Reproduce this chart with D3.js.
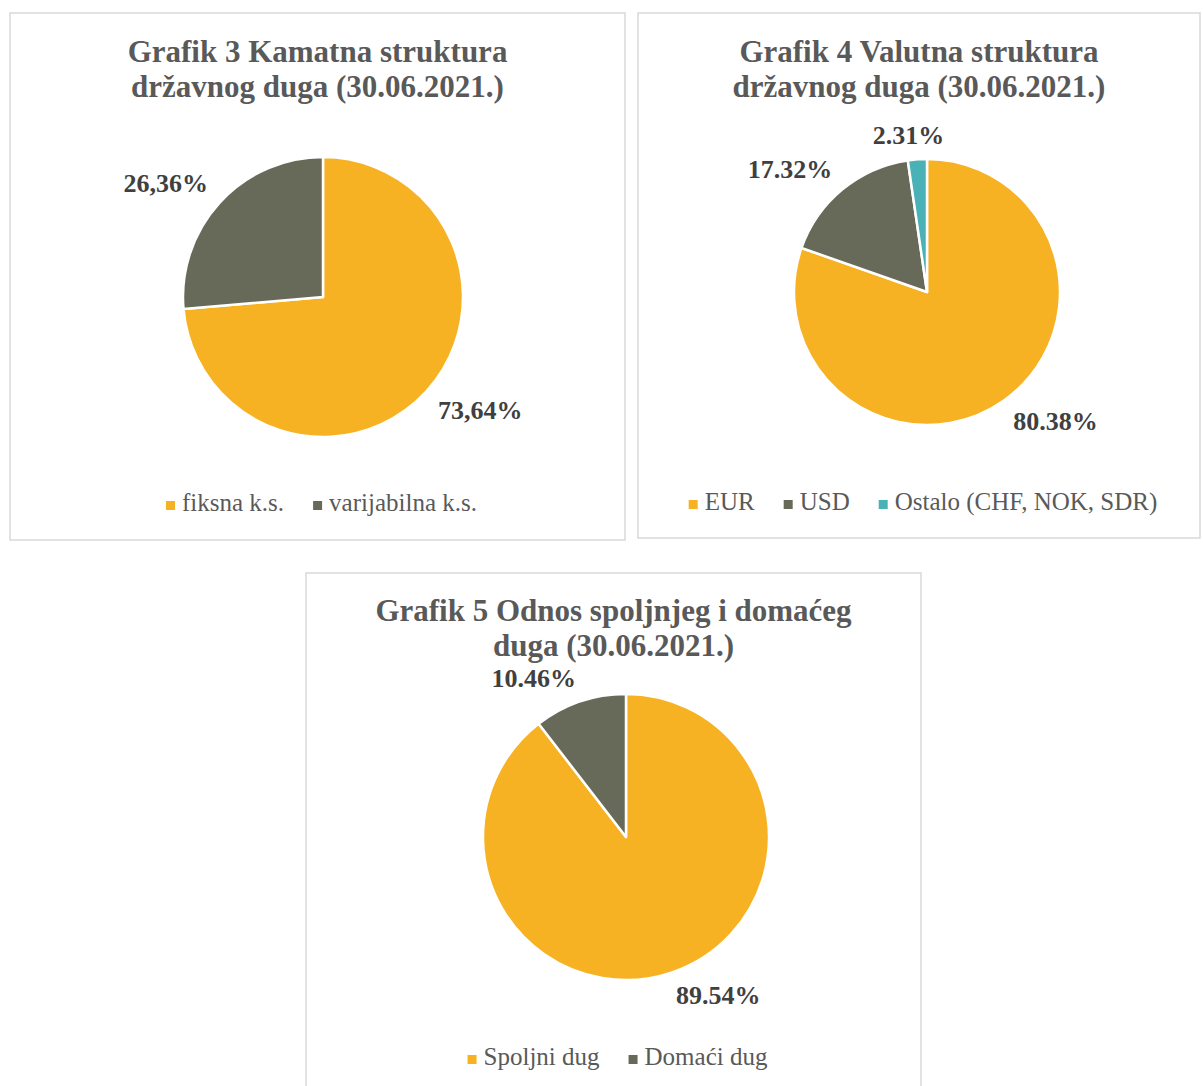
<!DOCTYPE html>
<html><head><meta charset="utf-8">
<script src="https://cdn.jsdelivr.net/npm/d3@7"></script>
<style>body{margin:0;background:#fff}svg{display:block}</style>
</head><body>
<svg id="c" width="1203" height="1086"></svg>
<script>
// ---- data ----
const titles1 = ["Grafik 3 Kamatna struktura", "državnog duga (30.06.2021.)"];
const cats1 = ["fiksna k.s.", "varijabilna k.s."];
const vals1 = [73.64, 26.36];
const labels1 = ["73,64%", "26,36%"];

const titles2 = ["Grafik 4 Valutna struktura", "državnog duga (30.06.2021.)"];
const cats2 = ["EUR", "USD", "Ostalo (CHF, NOK, SDR)"];
const vals2 = [80.38, 17.32, 2.31];
const labels2 = ["80.38%", "17.32%", "2.31%"];

const titles3 = ["Grafik 5 Odnos spoljnjeg i domaćeg", "duga (30.06.2021.)"];
const cats3 = ["Spoljni dug", "Domaći dug"];
const vals3 = [89.54, 10.46];
const labels3 = ["89.54%", "10.46%"];

const colors = ["#F6B223", "#686A59", "#4AB1B6"];

// ---- layout ----
const panels = [
  {x:10, y:13, w:615, h:527, cx:323, cy:297, r:140, titleY:62, legendY:503, titles:titles1, cats:cats1, vals:vals1, labels:labels1},
  {x:638, y:13, w:562, h:525, cx:927, cy:292, r:133, titleY:62, legendY:502, titles:titles2, cats:cats2, vals:vals2, labels:labels2},
  {x:306, y:573, w:615, h:530, cx:626, cy:837, r:143, titleY:621, legendY:1057, titles:titles3, cats:cats3, vals:vals3, labels:labels3}
];

const svg = d3.select("#c");
const font = "'Liberation Serif', 'DejaVu Serif', serif";

panels.forEach(p => {
  const g = svg.append("g");
  g.append("rect").attr("x", p.x).attr("y", p.y).attr("width", p.w).attr("height", p.h)
    .attr("fill", "#fff").attr("stroke", "#D9D9D9").attr("stroke-width", 1.5);
  const mid = p.x + p.w / 2;
  p.titles.forEach((t, i) => {
    g.append("text").attr("x", mid).attr("y", p.titleY + i * 35)
      .attr("text-anchor", "middle").attr("font-family", font).attr("font-weight", "bold")
      .attr("font-size", 31).attr("fill", "#595959").text(t);
  });

  const pie = d3.pie().sort(null).value(d => d)(p.vals);
  const arc = d3.arc().innerRadius(0).outerRadius(p.r);
  const pg = g.append("g").attr("transform", `translate(${p.cx},${p.cy})`);
  pg.selectAll("path").data(pie).join("path")
    .attr("d", arc).attr("fill", (d, i) => colors[i])
    .attr("stroke", "#fff").attr("stroke-width", 2.5).attr("stroke-linejoin", "round");

  // outside-end labels: anchor corner of label box at r + gap along mid angle
  const gap = 16, lh = 16;
  pie.forEach((d, i) => {
    const a = (d.startAngle + d.endAngle) / 2;
    const dx = Math.sin(a), dy = -Math.cos(a);
    const ax = (p.r + gap) * dx, ay = (p.r + gap) * dy;
    const t = pg.append("text").attr("text-anchor", "middle").attr("dominant-baseline", "central")
      .attr("font-family", font).attr("font-weight", "bold").attr("font-size", 26)
      .attr("fill", "#404040").text(p.labels[i]);
    const w = t.node().getComputedTextLength();
    const kx = Math.max(-1, Math.min(1, dx * 3)), ky = Math.max(-1, Math.min(1, dy * 3));
    t.attr("x", ax + kx * w / 2).attr("y", ay + ky * lh / 2);
  });

  // legend
  const lg = g.append("g");
  let xx = 0;
  p.cats.forEach((c, i) => {
    const it = lg.append("g");
    it.append("rect").attr("x", 0).attr("y", -10).attr("width", 9).attr("height", 9).attr("fill", colors[i]);
    const tx = it.append("text").attr("x", 16).attr("y", 0).attr("font-family", font)
      .attr("font-size", 25).attr("fill", "#595959").text(c);
    const w = 16 + tx.node().getComputedTextLength();
    it.attr("transform", `translate(${xx},0)`);
    xx += w + 29;
  });
  const total = xx - 29;
  lg.attr("transform", `translate(${mid - total / 2 + 4},${p.legendY + 8})`);
});
</script>
</body></html>
